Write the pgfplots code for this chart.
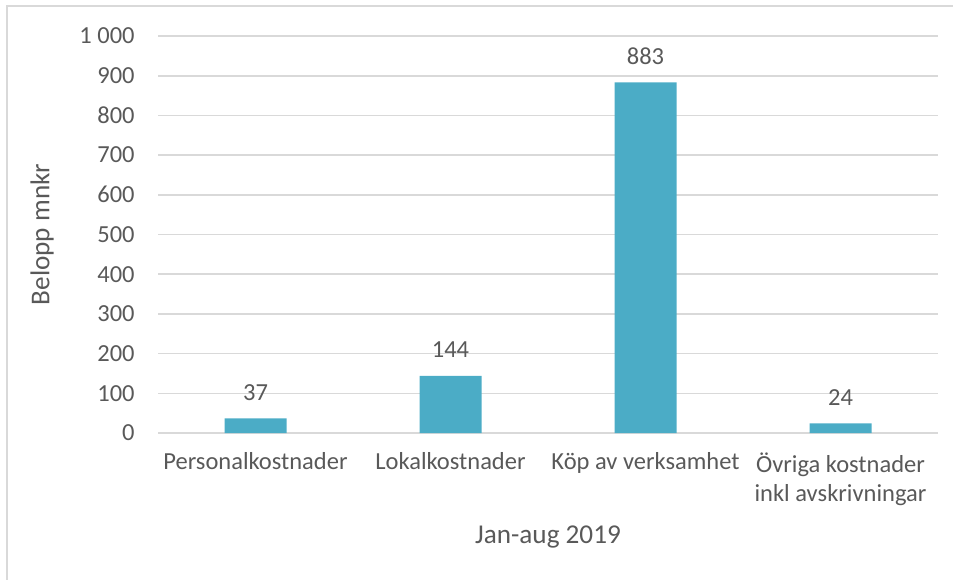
\documentclass[border=0pt]{standalone}
\usepackage{pgfplots}
\pgfplotsset{compat=1.18}
\usepackage{fontspec}
\setmainfont{Carlito}
\definecolor{barc}{HTML}{4BACC6}
\definecolor{txt}{HTML}{595959}
\definecolor{grd}{HTML}{D9D9D9}
\begin{document}
\begin{tikzpicture}
\path[use as bounding box] (0,0) rectangle (476.5pt,-289.5pt);
\draw[grd, line width=0.8pt] (3.5pt,-292pt) -- (3.5pt,-3pt) -- (480pt,-3pt);
\begin{axis}[
  at={(79pt,-216.5pt)}, anchor=south west,
  scale only axis, width=390pt, height=198.5pt,
  xmin=-0.5, xmax=3.5, ymin=0, ymax=1000,
  ybar, bar width=31pt,
  xtick=data,
  xticklabels={Personalkostnader,Lokalkostnader,Köp av verksamhet,{Övriga kostnader\\inkl avskrivningar}},
  ytick={0,100,...,1000},
  /pgf/number format/assume math mode=true,
  /pgf/number format/1000 sep={\ },
  axis x line=bottom, axis y line=left,
  axis line style={-},
  y axis line style={draw=none},
  x axis line style={draw=grd, line width=1pt},
  major tick length=0pt,
  ymajorgrids, grid style={draw=grd, line width=0.8pt},
  tick label style={font=\fontsize{12.25}{14.5}\selectfont, text=txt},
  yticklabel style={anchor=east, inner sep=0pt, xshift=-11.5pt},
  xticklabel style={align=center, anchor=north, inner sep=0pt, yshift=-9.5pt},
  xlabel={Jan-aug 2019},
  ylabel={Belopp mnkr},
  label style={font=\fontsize{13.6}{16}\selectfont, text=txt},
  xlabel style={at={(axis description cs:0.5,-0.262)}, anchor=center},
  ylabel style={at={(axis description cs:-0.1487,0.5)}, anchor=center},
  nodes near coords,
  every node near coord/.append style={anchor=center, yshift=13pt, font=\fontsize{12.25}{14.5}\selectfont, text=txt},
  clip=false,
]
\addplot[fill=barc, draw=none] coordinates {(0,37) (1,144) (2,883) (3,24)};
\end{axis}
\end{tikzpicture}
\end{document}
